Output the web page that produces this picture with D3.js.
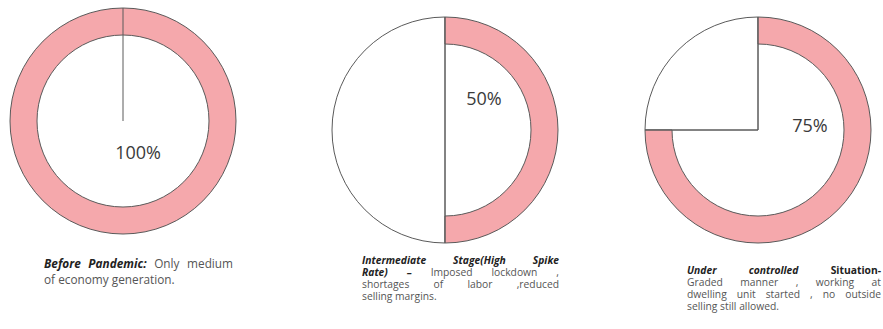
<!DOCTYPE html>
<html>
<head>
<meta charset="utf-8">
<script src="https://cdn.jsdelivr.net/npm/d3@7"></script>
<style>
  body { margin: 0; background: #fff; }
  svg { display: block; }
</style>
</head>
<body>
<svg id="chart" width="883" height="329"></svg>
<script>
// data
const stages = ["Before Pandemic", "Intermediate Stage", "Under controlled Situation"];
const shares = [100, 50, 75];
const shareLabels = ["100%", "50%", "75%"];
// caption lines, each a list of [text, style] segments
const captions = [
  [
    [["Before Pandemic:", "bi"], ["Only medium", "n"]],
    [["of economy generation.", "n"]]
  ],
  [
    [["Intermediate Stage(High Spike", "bi"]],
    [["Rate) \u2013", "bi"], ["Imposed lockdown ,", "n"]],
    [["shortages of labor ,reduced", "n"]],
    [["selling margins.", "n"]]
  ],
  [
    [["Under controlled", "bi"], ["Situation-", "b"]],
    [["Graded manner , working at", "n"]],
    [["dwelling unit started , no outside", "n"]],
    [["selling still allowed.", "n"]]
  ]
];

// layout
const centers = [[123, 121], [445, 130], [758, 130]];
const labelOffsets = [[15, 31], [39, -32], [52, -5]];
const captionBoxes = [
  {x: 44, y: 268, w: 189, lh: 16, size: 11.8},
  {x: 362, y: 263.5, w: 197, lh: 12.3, size: 10.3},
  {x: 687, y: 273.5, w: 194, lh: 12.3, size: 10.3}
];
const outerR = 113, innerR = 86;
const pink = "#f5a8ac", edge = "#5a5a5a";

const svg = d3.select("#chart");
const angle = d3.scaleLinear().domain([0, 100]).range([0, 2 * Math.PI]);

const ring = d3.arc().innerRadius(innerR).outerRadius(outerR);
const wedge = d3.arc().innerRadius(0).outerRadius(outerR);

shares.forEach(function(v, i) {
  const g = svg.append("g")
    .attr("class", "stage")
    .attr("transform", `translate(${centers[i][0]},${centers[i][1]})`);

  // remaining part: plain white wedge
  if (v < 100) {
    g.append("path")
      .attr("d", wedge({startAngle: angle(v), endAngle: angle(100)}))
      .attr("fill", "#fff")
      .attr("stroke", edge)
      .attr("stroke-width", 1);
  }

  // share part: pink ring
  g.append("path")
    .attr("d", ring({startAngle: angle(0), endAngle: angle(v)}))
    .attr("fill", pink)
    .attr("stroke", edge)
    .attr("stroke-width", 1);

  // radial dividers from the centre
  const cuts = v < 100 ? [0, v] : [0];
  g.selectAll("line.cut")
    .data(cuts)
    .join("line")
    .attr("class", "cut")
    .attr("x1", 0).attr("y1", 0)
    .attr("x2", d => outerR * Math.sin(angle(d)))
    .attr("y2", d => -outerR * Math.cos(angle(d)))
    .attr("stroke", edge)
    .attr("stroke-width", 1);

  g.append("text")
    .attr("x", labelOffsets[i][0])
    .attr("y", labelOffsets[i][1])
    .attr("text-anchor", "middle")
    .attr("dominant-baseline", "central")
    .attr("font-family", "'Open Sans', sans-serif")
    .attr("font-size", 18)
    .attr("fill", "#3a3a3a")
    .text(shareLabels[i]);
});

// captions, justified like the original text boxes
function styleText(t, s, size) {
  t.attr("font-family", "'Open Sans', sans-serif")
    .attr("font-size", size)
    .attr("fill", s === "n" ? "#555" : "#222")
    .attr("font-weight", s === "n" ? "normal" : "bold")
    .attr("font-style", s === "bi" ? "italic" : "normal");
}

captions.forEach(function(lines, i) {
  const box = captionBoxes[i];
  const cg = svg.append("g").attr("class", "caption").attr("data-stage", stages[i]);

  lines.forEach(function(line, li) {
    const words = [];
    line.forEach(seg => seg[0].split(" ").forEach(w => words.push([w, seg[1]])));
    const y = box.y + li * box.lh;
    const nodes = words.map(function(w) {
      const t = cg.append("text").attr("y", y).text(w[0]);
      styleText(t, w[1], box.size);
      return t;
    });
    const widths = nodes.map(n => n.node().getComputedTextLength());
    const total = d3.sum(widths);
    const last = li === lines.length - 1;
    const gap = (!last && words.length > 1) ? (box.w - total) / (words.length - 1) : box.size * 0.26;
    let x = box.x;
    nodes.forEach(function(n, k) {
      n.attr("x", x);
      x += widths[k] + gap;
    });
  });
});
</script>
</body>
</html>
